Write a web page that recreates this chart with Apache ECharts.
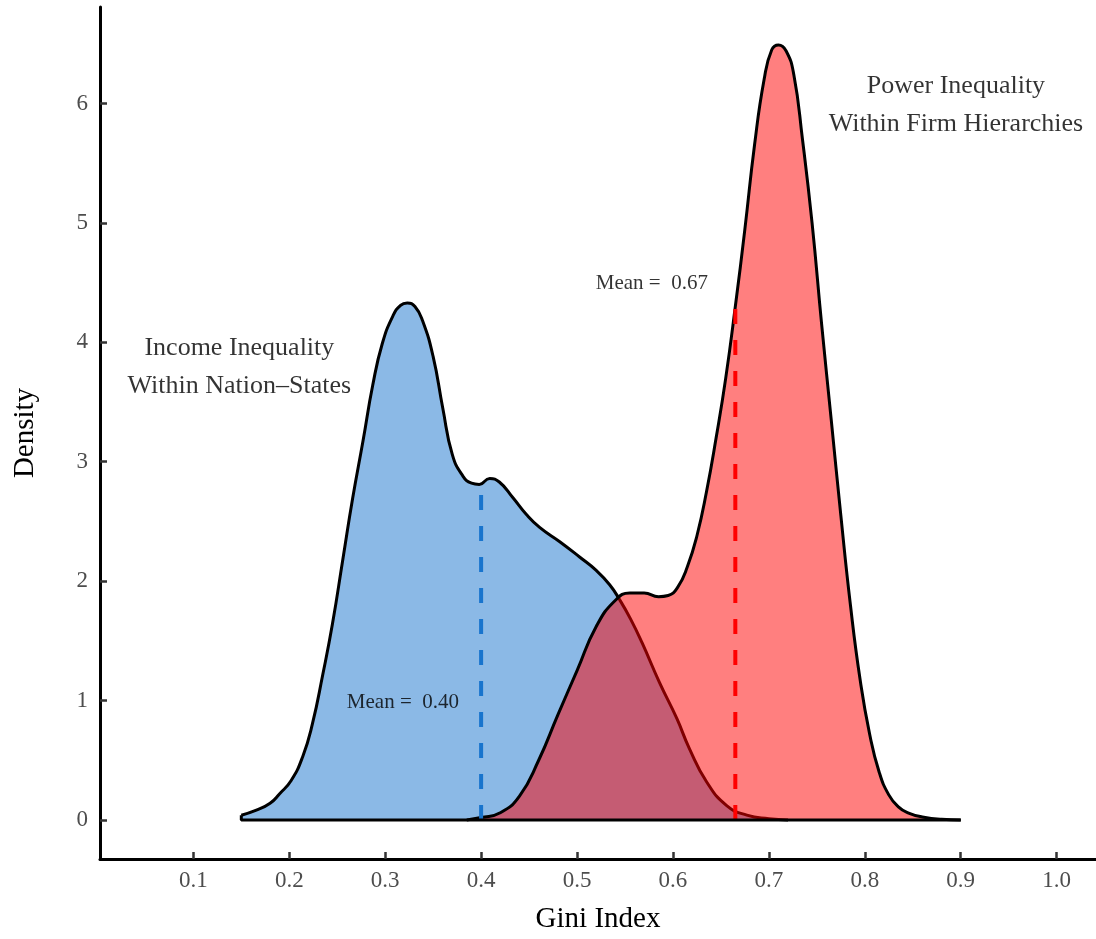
<!DOCTYPE html>
<html>
<head>
<meta charset="utf-8">
<script src="https://cdn.jsdelivr.net/npm/echarts@6/dist/echarts.min.js"></script>
<style>
html,body{margin:0;padding:0;background:#fff;overflow:hidden;}
#chart{width:1096px;height:939px;}
</style>
</head>
<body>
<div id="chart"></div>
<script>
// Income inequality (within nation-states) density estimate
const incomeX = [0.150,0.165,0.180,0.190,0.202,0.214,0.224,0.235,0.245,0.256,0.266,0.277,0.287,0.297,0.308,0.316,0.323,0.331,0.339,0.350,0.360,0.370,0.381,0.390,0.398,0.409,0.419,0.433,0.447,0.461,0.482,0.503,0.520,0.534,0.544,0.556,0.568,0.586,0.604,0.617,0.635,0.656,0.677,0.700,0.720];
const incomeY = [0.04,0.08,0.14,0.22,0.33,0.53,0.80,1.22,1.64,2.19,2.69,3.18,3.64,3.99,4.22,4.31,4.33,4.30,4.18,3.88,3.45,3.06,2.88,2.82,2.81,2.86,2.83,2.70,2.56,2.45,2.33,2.20,2.09,1.97,1.85,1.68,1.48,1.15,0.85,0.60,0.32,0.12,0.04,0.01,0.00];

// Power inequality (within firm hierarchies) density estimate
const powerX = [0.385,0.400,0.420,0.440,0.460,0.480,0.500,0.520,0.540,0.555,0.570,0.585,0.595,0.605,0.615,0.625,0.635,0.645,0.655,0.665,0.675,0.685,0.695,0.703,0.710,0.718,0.726,0.735,0.745,0.755,0.765,0.775,0.785,0.795,0.805,0.815,0.825,0.835,0.845,0.860,0.880,0.900];
const powerY = [0.00,0.02,0.06,0.20,0.50,0.88,1.25,1.62,1.84,1.90,1.90,1.87,1.88,1.95,2.12,2.38,2.75,3.20,3.70,4.30,4.95,5.65,6.20,6.45,6.49,6.44,6.24,5.70,5.00,4.15,3.35,2.55,1.80,1.18,0.72,0.40,0.21,0.11,0.06,0.025,0.005,0.00];

// Means and the density heights where the mean lines stop
const meanValues = [0.40, 0.665];
const meanHeights = [2.80, 4.28];
const meanLabels = ['Mean =  0.40', 'Mean =  0.67'];
const meanLabelX = [0.3185, 0.578];
const meanLabelY = [0.98, 4.49];

// Group annotations
const groupLabels = ['Income Inequality\nWithin Nation\u2013States', 'Power Inequality\nWithin Firm Hierarchies'];
const groupLabelX = [0.148, 0.895];
const groupLabelY = [3.79, 5.99];

// Axis ticks
const xTickLabels = ['0.1','0.2','0.3','0.4','0.5','0.6','0.7','0.8','0.9','1.0'];
const yTickLabels = ['0','1','2','3','4','5','6'];

const FONT = 'Liberation Serif, DejaVu Serif, serif';
const zip = (xs, ys) => xs.map((x, i) => [x, ys[i]]);

const chart = echarts.init(document.getElementById('chart'));
chart.setOption({
  animation: false,
  backgroundColor: '#ffffff',
  grid: { left: 100, right: 0, top: 7, bottom: 75, containLabel: false },
  xAxis: {
    type: 'value', min: 0.0027, max: 1.041,
    name: 'Gini Index', nameLocation: 'middle', nameGap: 46,
    nameTextStyle: { fontFamily: FONT, fontSize: 29, color: '#000' },
    axisLine: { show: true, onZero: false, lineStyle: { color: '#000', width: 3 } },
    axisTick: { show: true, inside: true, length: 7, lineStyle: { color: '#333', width: 2.5 },
                customValues: xTickLabels.map(Number) },
    axisLabel: { show: true, margin: 10, fontFamily: FONT, fontSize: 23, color: '#4d4d4d',
                 customValues: xTickLabels.map(Number), formatter: v => Number(v).toFixed(1) },
    splitLine: { show: false }
  },
  yAxis: {
    type: 'value', min: -0.327, max: 6.808,
    name: 'Density', nameLocation: 'middle', nameGap: 60, nameRotate: 90,
    nameTextStyle: { fontFamily: FONT, fontSize: 29, color: '#000' },
    axisLine: { show: true, onZero: false, lineStyle: { color: '#000', width: 3 } },
    axisTick: { show: true, inside: true, length: 7, lineStyle: { color: '#333', width: 2.5 },
                customValues: yTickLabels.map(Number) },
    axisLabel: { show: true, margin: 12, fontFamily: FONT, fontSize: 23, color: '#4d4d4d',
                 customValues: yTickLabels.map(Number), formatter: v => String(Math.round(v)) },
    splitLine: { show: false }
  },
  series: [
    {
      type: 'line', name: 'income', data: zip(incomeX, incomeY), smooth: 0.5,
      showSymbol: false, symbol: 'none', z: 2, silent: true,
      lineStyle: { color: '#000', width: 3 },
      areaStyle: { color: 'rgba(24,116,205,0.5)', opacity: 1 }
    },
    {
      type: 'line', name: 'power', data: zip(powerX, powerY), smooth: 0.5,
      showSymbol: false, symbol: 'none', z: 3, silent: true,
      lineStyle: { color: '#000', width: 3 },
      areaStyle: { color: 'rgba(255,0,0,0.5)', opacity: 1 }
    },
    {
      type: 'line', name: 'baseline',
      data: [[incomeX[0], incomeY[0]], [incomeX[0], 0], [powerX[powerX.length - 1], 0]],
      showSymbol: false, symbol: 'none', z: 6, silent: true,
      lineStyle: { color: '#000', width: 3 }
    },
    {
      type: 'line', name: 'mean income',
      data: [[meanValues[0], 0], [meanValues[0], meanHeights[0]]],
      showSymbol: false, symbol: 'none', z: 4, silent: true,
      lineStyle: { color: '#1874CD', width: 4, type: [15, 16] }
    },
    {
      type: 'line', name: 'mean power',
      data: [[meanValues[1], 0], [meanValues[1], meanHeights[1]]],
      showSymbol: false, symbol: 'none', z: 4, silent: true,
      lineStyle: { color: '#FF0000', width: 4, type: [15, 16] }
    },
    {
      type: 'scatter', name: 'mean labels', symbolSize: 0, z: 7, silent: true,
      data: meanLabels.map((t, i) => ({ name: t, value: [meanLabelX[i], meanLabelY[i]] })),
      label: { show: true, position: 'inside', formatter: '{b}', fontFamily: FONT, fontSize: 21,
               color: '#000', align: 'center', verticalAlign: 'middle' }
    },
    {
      type: 'scatter', name: 'group labels', symbolSize: 0, z: 7, silent: true,
      data: groupLabels.map((t, i) => ({ name: t, value: [groupLabelX[i], groupLabelY[i]] })),
      label: { show: true, position: 'inside', formatter: '{b}', fontFamily: FONT, fontSize: 26,
               lineHeight: 38, color: '#000', align: 'center', verticalAlign: 'middle' }
    }
  ]
});
</script>
</body>
</html>
